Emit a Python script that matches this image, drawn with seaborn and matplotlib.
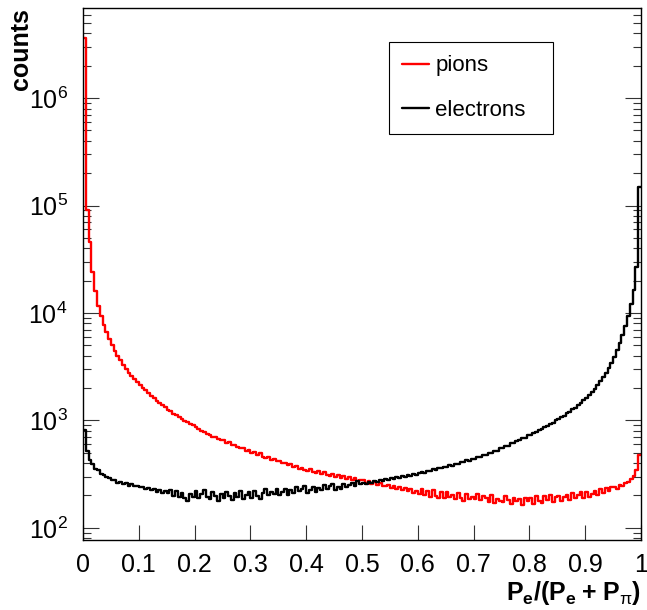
import numpy as np
import pandas as pd
import matplotlib
matplotlib.use("Agg")
import matplotlib.pyplot as plt
import seaborn as sns
from matplotlib.ticker import LogLocator, NullLocator

# ---------------- data (200 bins over 0..1) ----------------
n_bins = 200
x_range = (0.0, 1.0)

pions = [
    3600000, 90000, 46000, 24000, 16000, 11500, 9400, 7800, 6600, 5750,
    5000, 4450, 4000, 3620, 3300, 3020, 2790, 2600, 2410, 2260,
    2120, 2000, 1900, 1790, 1680, 1600, 1515, 1460, 1385, 1320,
    1255, 1220, 1155, 1120, 1070, 1035, 995, 960, 925, 900,
    865, 838, 800, 782, 748, 736, 705, 698, 668, 660,
    652, 622, 628, 590, 594, 560, 548, 556, 521, 528,
    498, 512, 478, 492, 461, 446, 458, 431, 440, 418,
    421, 398, 404, 382, 396, 368, 375, 352, 362, 346,
    338, 350, 331, 326, 340, 318, 329, 312, 306, 319,
    300, 309, 293, 301, 285, 296, 279, 288, 271, 281,
    276, 260, 271, 257, 265, 250, 262, 246, 244, 251,
    236, 245, 229, 238, 224, 233, 218, 228, 213, 222,
    208, 228, 200, 220, 194, 224, 198, 188, 214, 190,
    217, 193, 203, 186, 213, 189, 178, 206, 184, 195,
    184, 206, 180, 196, 190, 174, 200, 172, 186, 178,
    174, 196, 181, 168, 190, 176, 186, 164, 190, 177,
    188, 168, 196, 178, 170, 198, 182, 204, 174, 192,
    199, 176, 192, 203, 180, 209, 188, 201, 216, 191,
    214, 194, 206, 222, 200, 228, 210, 234, 218, 238,
    238, 229, 249, 244, 260, 268, 283, 305, 345, 480,
]

electrons = [
    820, 520, 425, 392, 356, 344, 320, 312, 296, 291,
    280, 276, 264, 268, 255, 259, 247, 254, 243, 246,
    238, 242, 229, 236, 224, 228, 216, 223, 211, 219,
    212, 226, 198, 218, 194, 212, 188, 176, 208, 192,
    218, 190, 206, 224, 194, 184, 214, 198, 178, 208,
    189, 217, 197, 183, 209, 193, 221, 187, 203, 215,
    188, 218, 198, 184, 212, 228, 200, 216, 206, 232,
    200, 216, 230, 204, 226, 212, 238, 220, 232, 246,
    209, 227, 239, 215, 233, 223, 249, 231, 243, 257,
    224, 240, 232, 254, 238, 248, 264, 244, 270, 258,
    262, 255, 268, 260, 272, 266, 278, 271, 284, 279,
    288, 282, 296, 290, 302, 297, 311, 304, 318, 313,
    322, 330, 326, 340, 336, 349, 345, 360, 357, 371,
    369, 382, 380, 396, 392, 409, 406, 424, 421, 440,
    438, 458, 456, 478, 476, 499, 498, 522, 523, 550,
    552, 579, 582, 610, 614, 644, 650, 683, 690, 725,
    735, 770, 782, 820, 835, 875, 892, 935, 955, 1000,
    1025, 1075, 1105, 1160, 1200, 1265, 1315, 1390, 1450, 1540,
    1620, 1730, 1840, 1980, 2130, 2320, 2530, 2780, 3080, 3450,
    3900, 4500, 5250, 6200, 7500, 9300, 12000, 16500, 27000, 150000,
]

series_names = ["pions", "electrons"]
series_colors = {"pions": "#ff0000", "electrons": "#000000"}

x_ticks = [0.0, 0.1, 0.2, 0.3, 0.4, 0.5, 0.6, 0.7, 0.8, 0.9, 1.0]
x_tick_labels = ["0", "0.1", "0.2", "0.3", "0.4", "0.5", "0.6", "0.7", "0.8", "0.9", "1"]

# ---------------- style ----------------
sns.set_style("ticks")
plt.rcParams["font.family"] = ["Liberation Sans", "DejaVu Sans"]
plt.rcParams["mathtext.fontset"] = "custom"
plt.rcParams["mathtext.rm"] = "Liberation Sans"
plt.rcParams["mathtext.bf"] = "Liberation Sans:bold"
plt.rcParams["mathtext.it"] = "Liberation Sans:italic"
plt.rcParams["mathtext.sf"] = "Liberation Sans"
plt.rcParams["text.color"] = "black"
plt.rcParams["axes.labelcolor"] = "black"
plt.rcParams["xtick.color"] = "black"
plt.rcParams["ytick.color"] = "black"

edges = np.linspace(x_range[0], x_range[1], n_bins + 1)
centers = 0.5 * (edges[:-1] + edges[1:])
frames = []
for name, vals in zip(series_names, [pions, electrons]):
    frames.append(pd.DataFrame({"x": centers, "counts": vals, "particle": name}))
df = pd.concat(frames, ignore_index=True)

fig = plt.figure(figsize=(6.47, 6.10), dpi=100)
ax = fig.add_axes([83 / 647, 1 - 540 / 610, 558 / 647, 532 / 610])

for name in series_names:
    sns.histplot(
        data=df[df["particle"] == name], x="x", weights="counts",
        bins=n_bins, binrange=x_range, element="step", fill=False,
        color=series_colors[name], linewidth=1.7, ax=ax, label=name,
    )

ax.set_yscale("log")
ax.set_xlim(0, 1)
ax.set_ylim(77, 6.9e6)

ax.set_xticks(x_ticks, x_tick_labels)
ax.xaxis.set_minor_locator(NullLocator())
ax.yaxis.set_major_locator(LogLocator(base=10, numticks=12))
ax.yaxis.set_minor_locator(LogLocator(base=10, subs=np.arange(2, 10), numticks=12))

ax.tick_params(axis="both", which="both", direction="in", top=False, right=True,
               color="#333333", width=0.8, labelsize=18, labelcolor="black")
ax.tick_params(axis="x", which="major", length=11, pad=9)
ax.tick_params(axis="y", which="major", length=11.5, pad=11)
ax.tick_params(axis="y", which="minor", length=5.8)

for s in ax.spines.values():
    s.set_visible(True)
    s.set_linewidth(1.0)
    s.set_color("black")

ax.set_xlabel(r"$\mathbf{P_{e}/(P_{e}}\;\mathbf{+}\;\mathbf{P}_{\mathrm{π}}\mathbf{)}$",
              fontsize=18, loc="right", labelpad=2, color="black")
ax.set_ylabel("counts", fontsize=18, fontweight="bold", loc="top", color="black")
ax.yaxis.set_label_coords(-0.09, 1.0)

leg = ax.legend(loc="upper left", bbox_to_anchor=(0.548, 0.769, 0.294, 0.167),
                mode="expand", frameon=True, fancybox=False, edgecolor="black",
                fontsize=16, handlelength=1.2, handletextpad=0.3,
                labelspacing=1.05, borderpad=0.6, borderaxespad=0)
leg.get_frame().set_linewidth(0.8)
leg.get_frame().set_alpha(1)
for t in leg.get_texts():
    t.set_color("black")

fig.savefig("out.png", dpi=100)
